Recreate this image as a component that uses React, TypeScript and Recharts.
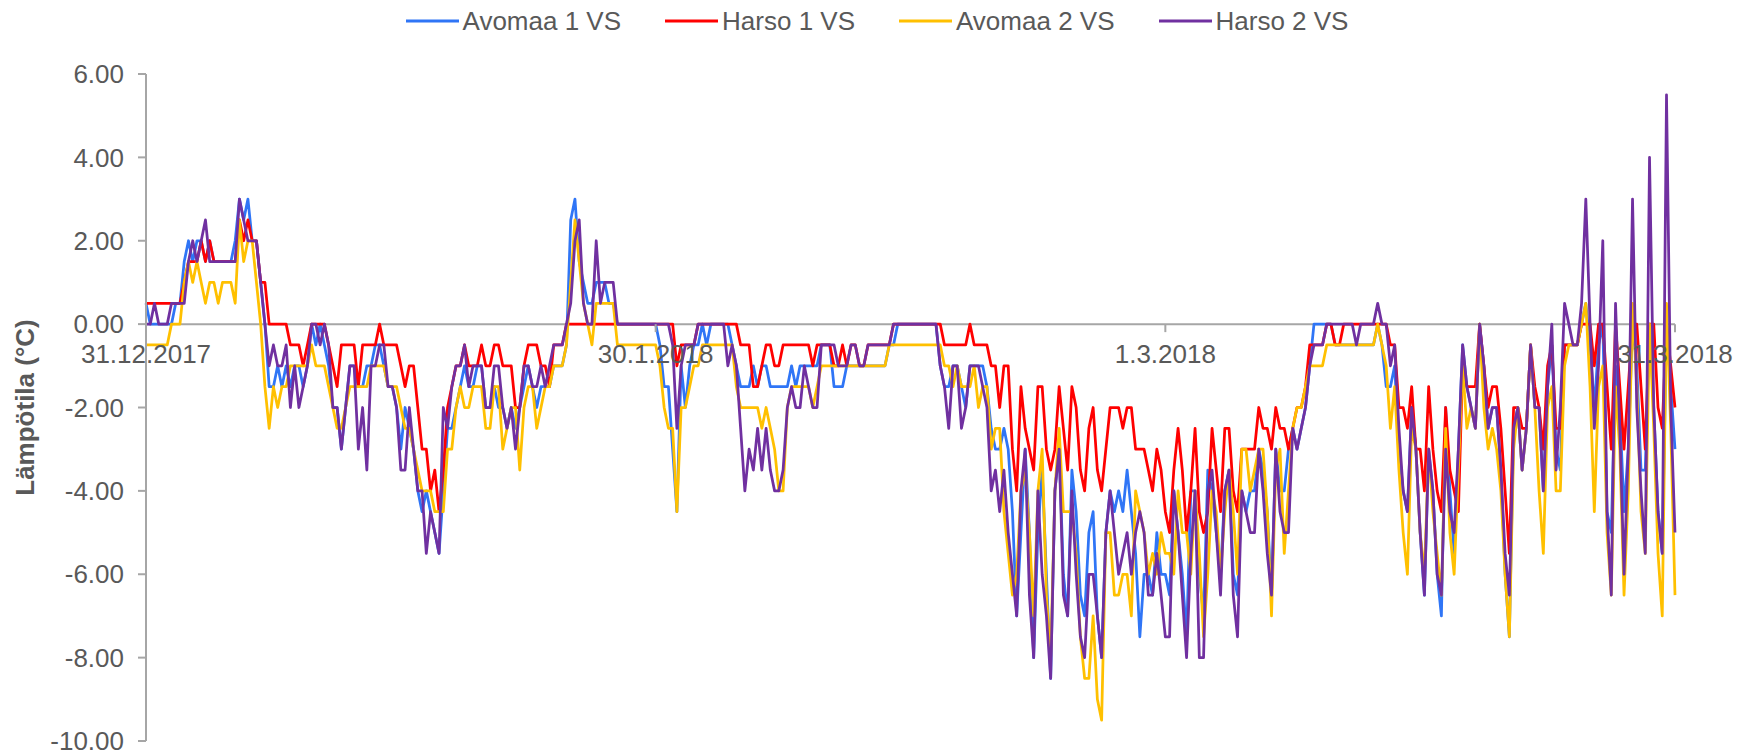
import React from 'react';
import { LineChart, Line, XAxis, YAxis, ReferenceLine } from 'recharts';

// ---------- data ----------
const xTickDays = [0, 30, 60, 90];
const xTickLabels = ['31.12.2017', '30.1.2018', '1.3.2018', '31.3.2018'];
const yTicks = [-10, -8, -6, -4, -2, 0, 2, 4, 6];
const seriesNames = ['Avomaa 1 VS', 'Harso 1 VS', 'Avomaa 2 VS', 'Harso 2 VS'];
const seriesKeys = ['a1', 'h1', 'a2', 'h2'];
const seriesColors = ['#2F75F6', '#FF0000', '#FFC000', '#7030A0'];
const STEP_DAYS = 0.25; // readings every 6 hours, starting 31.12.2017

const avomaa1 = [
  0.5,0,0,0, 0,0,0,0.5,
  0.5,1.5,2,1.5, 2,2,1.5,2,
  1.5,1.5,1.5,1.5, 1.5,2,3,2.5,
  3,2,2,1, 0,-1.5,-1.5,-1,
  -1.5,-1,-1.5,-1, -1,-1.5,-1,0,
  -0.5,0,-0.5,-1, -2,-2,-3,-2,
  -1,-1,-1.5,-1.5, -1,-1,-0.5,-0.5,
  -1,-1.5,-1.5,-2, -3,-2,-2.5,-3,
  -4,-4.5,-4,-4.5, -5,-5.5,-4,-2.5,
  -2.5,-2,-1.5,-1, -1.5,-1.5,-1,-1,
  -2,-2,-1.5,-2, -2,-2.5,-2,-2.5,
  -2,-1.5,-1,-1.5, -2,-1.5,-1.5,-1.5,
  -1,-1,-1,-0.5, 2.5,3,1.5,1,
  0.5,0.5,1,1, 1,0.5,0.5,0,
  0,0,0,0, 0,0,0,0,
  0,-0.5,-1.5,-1.5, -3,-4.5,-1,-2,
  -1,-0.5,-0.5,0, -0.5,0,0,0,
  0,0,-0.5,-1, -1.5,-1.5,-1.5,-1,
  -1.5,-1,-1,-1.5, -1.5,-1.5,-1.5,-1.5,
  -1,-1.5,-1,-1, -1,-1,-1,-0.5,
  -0.5,-0.5,-1.5,-1.5, -1.5,-1,-1,-1,
  -1,-1,-1,-1, -1,-1,-1,-0.5,
  -0.5,0,0,0, 0,0,0,0,
  0,0,0,-1, -1.5,-1.5,-1,-1,
  -1.5,-2,-1,-1, -1,-1,-1.5,-2.5,
  -3,-3,-2.5,-3, -4.5,-7,-5,-3,
  -5,-8,-5,-3.5, -6,-8.5,-4,-3,
  -6,-7,-3.5,-4.5, -6.5,-7,-5,-4.5,
  -7,-8,-5,-4, -4.5,-4,-4.5,-3.5,
  -4.5,-5.5,-7.5,-6, -6,-6.5,-5,-6,
  -6,-6.5,-4,-5, -6,-7.5,-4,-4,
  -6,-7,-3.5,-4, -5,-6,-4,-3.5,
  -6,-6.5,-4,-4.5, -4,-4,-3,-3.5,
  -4.5,-6.5,-3,-4, -4,-3,-2.5,-3,
  -2.5,-2,-1,0, 0,0,0,0,
  -0.5,-0.5,-0.5,-0.5, -0.5,-0.5,-0.5,-0.5,
  -0.5,-0.5,0,-0.5, -1.5,-1.5,-1,-3,
  -4,-4.5,-2,-3, -5,-6.5,-3,-4,
  -6,-7,-2,-4, -5.5,-3,-0.5,-1.5,
  -2,-2.5,0,-1, -2.5,-2,-2,-3.5,
  -6,-7.5,-2.5,-2, -3.5,-2.5,-0.5,-2,
  -2,-4,-1.5,-0.5, -3,-3.5,-0.5,-0.5,
  -0.5,-0.5,0,0.5, -0.5,-2,-0.5,0,
  -4.5,-5,-1,-2, -4.5,-3,0,-1,
  -3.5,-3.5,0,-2, -4.5,-5.5,0,-1.5,
  -3,
];

const harso1 = [
  0.5,0.5,0.5,0.5, 0.5,0.5,0.5,0.5,
  0.5,1,1.5,1.5, 1.5,2,1.5,2,
  1.5,1.5,1.5,1.5, 1.5,1.5,2.5,2,
  2.5,2,2,1, 1,0,0,0,
  0,0,-0.5,-0.5, -0.5,-1,-0.5,0,
  0,0,0,-0.5, -1,-1.5,-0.5,-0.5,
  -0.5,-0.5,-1.5,-0.5, -0.5,-0.5,-0.5,0,
  -0.5,-0.5,-0.5,-0.5, -1,-1.5,-1,-1,
  -2,-3,-3,-4, -3.5,-4.5,-3.5,-2,
  -1.5,-1,-1,-0.5, -1,-1,-1,-0.5,
  -1,-1,-0.5,-0.5, -1,-1,-1,-2,
  -2,-1,-0.5,-0.5, -0.5,-1,-1,-1.5,
  -0.5,-0.5,-0.5,0, 0,0,0,0,
  0,0,0,0, 0,0,0,0,
  0,0,0,0, 0,0,0,0,
  0,0,0,0, 0,-1,-0.5,-0.5,
  -0.5,-0.5,0,0, 0,0,0,0,
  0,0,0,0, -0.5,-0.5,-0.5,-1.5,
  -1.5,-1,-0.5,-0.5, -1,-1,-0.5,-0.5,
  -0.5,-0.5,-0.5,-0.5, -0.5,-1,-0.5,-0.5,
  -0.5,-0.5,-1,-1, -0.5,-1,-0.5,-0.5,
  -1,-1,-0.5,-0.5, -0.5,-0.5,-0.5,-0.5,
  0,0,0,0, 0,0,0,0,
  0,0,0,0, -0.5,-0.5,-0.5,-0.5,
  -0.5,-0.5,0,-0.5, -0.5,-0.5,-0.5,-1,
  -1,-2,-1,-1, -3,-4,-1.5,-2.5,
  -3,-3.5,-1.5,-1.5, -3,-3.5,-3,-1.5,
  -2.5,-3.5,-1.5,-2, -3.5,-4,-2.5,-2,
  -3.5,-4,-3,-2, -2,-2,-2.5,-2,
  -2,-3,-3,-3, -3.5,-4,-3,-3.5,
  -4.5,-5,-3.5,-2.5, -3.5,-5,-4,-2.5,
  -4.5,-5,-4.5,-2.5, -3.5,-4.5,-2.5,-2.5,
  -4,-4.5,-3,-3, -3,-3,-2,-2.5,
  -2.5,-3,-2,-2.5, -2.5,-3,-2.5,-2,
  -2,-1.5,-0.5,-0.5, -0.5,-0.5,0,0,
  -0.5,-0.5,0,0, 0,0,0,0,
  0,0,0,0, 0,-0.5,-0.5,-2,
  -2,-2.5,-1.5,-3, -3,-4,-1.5,-3,
  -4,-4.5,-2,-3.5, -4,-4.5,-1,-1.5,
  -1.5,-1.5,0,-1, -2,-1.5,-1.5,-2.5,
  -4,-5.5,-2,-2, -2.5,-2.5,-0.5,-1.5,
  -2,-3,-1,-0.5, -2.5,-2.5,-0.5,-0.5,
  -0.5,-0.5,0,0, 0,-1,0,0,
  -1.5,-3,0,-1.5, -3,-1.5,0,0,
  -1.5,-3,0,0, -2,-2.5,0,-1,
  -2,
];

const avomaa2 = [
  -0.5,-0.5,-0.5,-0.5, -0.5,-0.5,0,0,
  0,1,1.5,1, 1.5,1,0.5,1,
  1,0.5,1,1, 1,0.5,2.5,1.5,
  2,2,1,0, -1.5,-2.5,-1.5,-2,
  -1.5,-1.5,-1,-1, -1,-1,-1,-0.5,
  -1,-1,-1,-1.5, -2,-2.5,-2.5,-2,
  -1.5,-1.5,-1.5,-1.5, -1.5,-1,-1,-1,
  -1,-1.5,-1.5,-1.5, -2,-2.5,-2.5,-3,
  -3.5,-4,-4,-4, -4.5,-4.5,-4.5,-3,
  -3,-2,-1.5,-2, -2,-1.5,-1.5,-1.5,
  -2.5,-2.5,-1.5,-1.5, -3,-2.5,-2,-2,
  -3.5,-2,-1.5,-1.5, -2.5,-2,-1.5,-1.5,
  -1,-1,-1,-0.5, 1,2.5,1.5,0.5,
  0,-0.5,0.5,0.5, 0.5,0.5,0.5,-0.5,
  -0.5,-0.5,-0.5,-0.5, -0.5,-0.5,-0.5,-0.5,
  -0.5,-1,-2,-2.5, -2.5,-4.5,-2,-2,
  -1.5,-1,-1,-0.5, -0.5,-0.5,-0.5,-0.5,
  -0.5,-0.5,-0.5,-1.5, -2,-2,-2,-2,
  -2,-2.5,-2,-2.5, -3,-4,-4,-2,
  -1.5,-1.5,-1.5,-1.5, -1.5,-2,-1.5,-1,
  -1,-1,-1,-1, -1,-1,-1,-1,
  -1,-1,-1,-1, -1,-1,-1,-0.5,
  -0.5,-0.5,-0.5,-0.5, -0.5,-0.5,-0.5,-0.5,
  -0.5,-0.5,-0.5,-0.5, -1,-1,-1.5,-1,
  -1.5,-1.5,-1.5,-1, -2,-1.5,-1.5,-3,
  -2.5,-2.5,-4.5,-5.5, -6.5,-6,-4,-3.5,
  -5,-7,-4,-3, -6.5,-8,-4,-2.5,
  -4.5,-4.5,-4.5,-5.5, -7.5,-8.5,-8.5,-7,
  -9,-9.5,-5,-5, -6.5,-6.5,-6,-6,
  -7,-4,-4.5,-5, -6,-5.5,-6,-5,
  -5.5,-5.5,-6,-4, -5,-5,-6,-4,
  -5.5,-7.5,-6,-4, -4.5,-6,-4.5,-3.5,
  -4.5,-6,-3,-3, -4,-3.5,-3,-3,
  -4.5,-7,-3.5,-3, -5.5,-4,-2.5,-2,
  -2,-1.5,-1,-1, -1,-1,-0.5,-0.5,
  -0.5,-0.5,-0.5,-0.5, -0.5,-0.5,-0.5,-0.5,
  -0.5,-0.5,0,-0.5, -1,-2.5,-1.5,-3.5,
  -5,-6,-2.5,-3, -5,-6,-3,-4.5,
  -5.5,-6.5,-2.5,-5, -6,-3.5,-1,-2.5,
  -2,-2.5,0,-2, -3,-2.5,-3,-4,
  -6,-7.5,-3,-2, -3.5,-2.5,-0.5,-2,
  -4,-5.5,-2,-1.5, -4,-4,-1,-0.5,
  -0.5,-0.5,0,0.5, -1.5,-4.5,-1.5,-1,
  -5,-6.5,-1.5,-3, -6.5,-4,0.5,-1.5,
  -4.5,-5.5,0,-2.5, -5.5,-7,0.5,-2.5,
  -6.5,
];

const harso2 = [
  0,0,0.5,0, 0,0,0.5,0.5,
  0.5,0.5,1.5,2, 1.5,2,2.5,1.5,
  1.5,1.5,1.5,1.5, 1.5,1.5,3,2.5,
  2,2,2,1, 0,-1,-0.5,-1,
  -1,-0.5,-2,-1, -2,-1.5,-1,0,
  0,-0.5,0,-0.5, -2,-2,-3,-2,
  -1,-1,-3,-2, -3.5,-1,-1,-0.5,
  -0.5,-1.5,-1.5,-2, -3.5,-3.5,-2,-3,
  -4,-4,-5.5,-4.5, -5,-5.5,-2,-2.5,
  -1.5,-1,-1,-0.5, -1.5,-1,-1,-1,
  -2,-2,-1,-1, -2,-2.5,-2,-3,
  -2,-1,-1,-1.5, -1.5,-1,-1.5,-1,
  -0.5,-0.5,-0.5,0, 0.5,2,2.5,0.5,
  0,0,2,0.5, 1,1,1,0,
  0,0,0,0, 0,0,0,0,
  0,0,0,0, -0.5,-2.5,-1,-0.5,
  -0.5,-0.5,0,0, 0,0,0,0,
  0,-1,-0.5,-1, -2.5,-4,-3,-3.5,
  -2.5,-3.5,-2.5,-3.5, -4,-4,-3.5,-2,
  -1.5,-2,-2,-1, -1.5,-2,-2,-0.5,
  -0.5,-0.5,-0.5,-1, -1,-1,-0.5,-0.5,
  -1,-1,-0.5,-0.5, -0.5,-0.5,-0.5,-0.5,
  0,0,0,0, 0,0,0,0,
  0,0,0,-1, -1.5,-2.5,-1,-1,
  -2.5,-2,-1,-1, -1,-1.5,-2,-4,
  -3.5,-4.5,-3.5,-5, -6,-7,-4,-3,
  -6.5,-8,-4,-6, -7,-8.5,-4,-3,
  -6.5,-7,-4,-6, -7.5,-8,-6,-6,
  -7,-8,-5,-4, -5,-6,-5.5,-5,
  -6,-5,-4.5,-5, -6.5,-6.5,-5.5,-6.5,
  -7.5,-7.5,-4,-5, -6.5,-8,-5.5,-4,
  -8,-8,-4,-3.5, -5,-6.5,-4,-3.5,
  -6.5,-7.5,-4,-4.5, -5,-5,-3,-4,
  -5.5,-6.5,-3,-4.5, -5,-5,-2.5,-3,
  -2.5,-2,-1,-0.5, -0.5,-0.5,0,0,
  0,0,0,0, 0,-0.5,0,0,
  0,0,0.5,0, 0,-1,-0.5,-2.5,
  -4,-4.5,-2,-3, -5,-6.5,-3,-4,
  -6,-6.5,-3,-4.5, -5,-3,-0.5,-1.5,
  -2,-2.5,0,-1, -2.5,-2,-2,-3.5,
  -5.5,-6.5,-2.5,-2, -3.5,-2.5,-0.5,-2,
  -2,-4,-1.5,0, -3.5,-2,0.5,0,
  -0.5,-0.5,0.5,3, 0,-2.5,-1,2,
  -4.5,-6.5,0.5,-2.5, -6,-3,3,-2,
  -4,-5.5,4,-2, -4.5,-5.5,5.5,-2,
  -5,
];

const seriesValues = [avomaa1, harso1, avomaa2, harso2];

const data = avomaa1.map((_, i) => {
  const row: Record<string, number> = { day: i * STEP_DAYS };
  seriesKeys.forEach((k, s) => {
    row[k] = seriesValues[s][i];
  });
  return row;
});

// ---------- layout ----------
const W = 1754;
const H = 752;
const MARGIN = { top: 74, right: 79, bottom: 10, left: 0 };
const Y_AXIS_W = 146;
const X_AXIS_H = 1;
const PLOT_TOP = MARGIN.top;
const PLOT_BOTTOM = H - MARGIN.bottom - X_AXIS_H;
const Y_MIN = -10;
const Y_MAX = 6;
const ZERO_Y = PLOT_TOP + ((PLOT_BOTTOM - PLOT_TOP) * Y_MAX) / (Y_MAX - Y_MIN);
const FONT = "'Liberation Sans', Arial, sans-serif";
const TEXT = '#595959';
const AXIS = '#A6A6A6';

const XTick = (props: any) => {
  const { x, payload } = props;
  const idx = xTickDays.indexOf(payload.value);
  const label = idx >= 0 ? xTickLabels[idx] : '';
  return (
    <g>
      <line x1={x} x2={x} y1={ZERO_Y} y2={ZERO_Y + 8} stroke={AXIS} strokeWidth={2} />
      <text
        x={x}
        y={ZERO_Y + 39}
        textAnchor="middle"
        fill={TEXT}
        fontSize={26}
        fontFamily={FONT}
      >
        {label}
      </text>
    </g>
  );
};

const LegendBar = () => (
  <div
    style={{
      position: 'absolute',
      left: 0,
      top: 0,
      width: W,
      height: 42,
      display: 'flex',
      justifyContent: 'center',
      alignItems: 'center',
      fontFamily: FONT,
      fontSize: 26,
      color: TEXT,
    }}
  >
    {seriesNames.map((name, i) => (
      <div
        key={name}
        style={{ display: 'flex', alignItems: 'center', marginLeft: i === 0 ? 0 : 44 }}
      >
        <svg width={53} height={6} style={{ marginRight: 4 }}>
          <line x1={0} x2={53} y1={3} y2={3} stroke={seriesColors[i]} strokeWidth={3} />
        </svg>
        <span style={{ whiteSpace: 'nowrap', lineHeight: '30px' }}>{name}</span>
      </div>
    ))}
  </div>
);

export default function App() {
  return (
    <div style={{ position: 'absolute', left: 0, top: 0, width: W, height: H, background: '#fff' }}>
      <LineChart width={W} height={H} data={data} margin={MARGIN}>
        <XAxis
          dataKey="day"
          type="number"
          domain={[0, 90]}
          ticks={xTickDays}
          interval={0}
          axisLine={false}
          tickLine={false}
          height={X_AXIS_H}
          tick={XTick}
        />
        <YAxis
          type="number"
          domain={[Y_MIN, Y_MAX]}
          ticks={yTicks}
          interval={0}
          width={Y_AXIS_W}
          axisLine={{ stroke: AXIS, strokeWidth: 2 }}
          tickLine={{ stroke: AXIS, strokeWidth: 2 }}
          tickSize={8}
          tickMargin={14}
          tick={{ fill: TEXT, fontSize: 26, fontFamily: FONT }}
          tickFormatter={(v: number) => v.toFixed(2)}
        />
        <ReferenceLine y={0} stroke={AXIS} strokeWidth={2} />
        {seriesKeys.map((k, i) => (
          <Line
            key={k}
            type="linear"
            dataKey={k}
            name={seriesNames[i]}
            stroke={seriesColors[i]}
            strokeWidth={2.75}
            strokeLinejoin="round"
            dot={false}
            activeDot={false}
            isAnimationActive={false}
          />
        ))}
      </LineChart>
      <LegendBar />
      <svg
        width={60}
        height={H}
        style={{ position: 'absolute', left: 0, top: 0, pointerEvents: 'none' }}
      >
        <text
          transform={`translate(25, ${(PLOT_TOP + PLOT_BOTTOM) / 2}) rotate(-90)`}
          textAnchor="middle"
          dominantBaseline="central"
          fill={TEXT}
          fontSize={26}
          fontWeight="bold"
          fontFamily={FONT}
        >
          Lämpötila (°C)
        </text>
      </svg>
    </div>
  );
}
